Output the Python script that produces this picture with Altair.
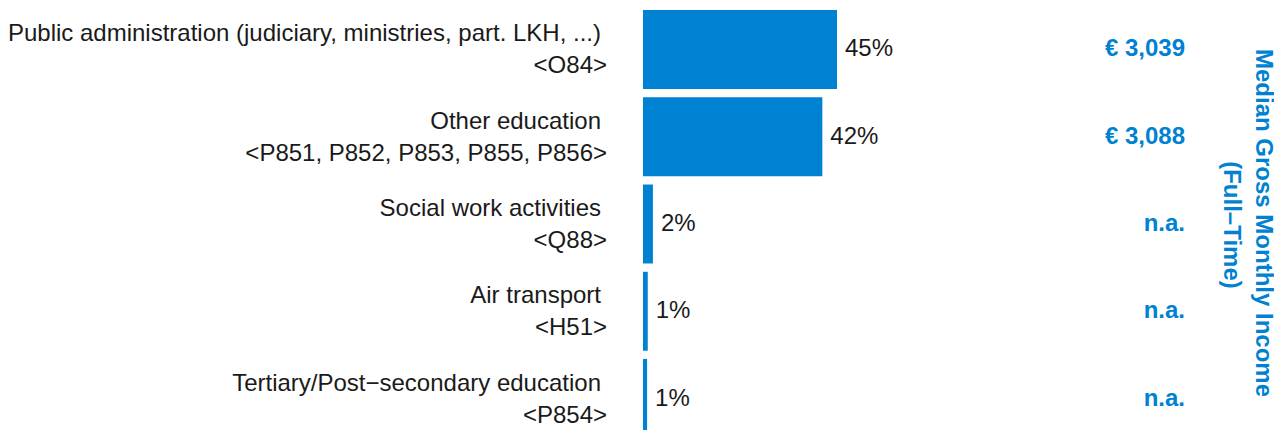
import altair as alt
import pandas as pd

categories = [
    "Public administration (judiciary, ministries, part. LKH, ...)",
    "Other education",
    "Social work activities",
    "Air transport",
    "Tertiary/Post\u2212secondary education",
]
codes = ["<O84>", "<P851, P852, P853, P855, P856>", "<Q88>", "<H51>", "<P854>"]
shares = [45.0, 41.6, 2.3, 1.1, 0.95]
incomes = ["\u20ac 3,039", "\u20ac 3,088", "n.a.", "n.a.", "n.a."]
title_lines = ["Median Gross Monthly Income", "(Full\u2013Time)"]

BLUE = "#0081D1"
FONT = "Liberation Sans"

df = pd.DataFrame({
    "cat": categories,
    "code": codes,
    "share": shares,
    "income": incomes,
})

y = alt.Y("cat:N", sort=categories, axis=None,
          scale=alt.Scale(paddingInner=0.095, paddingOuter=0.023))
xs = alt.Scale(domain=[0, 45], range=[635, 829], nice=False, zero=True)

base = alt.Chart(df)

bars = base.mark_bar(color=BLUE).encode(
    x=alt.X("share:Q", scale=xs, axis=None),
    y=y,
)

pct = base.transform_calculate(
    pl="format(datum.share, '.0f') + '%'"
).mark_text(align="left", baseline="middle", dx=8, font=FONT, fontSize=24,
            color="#1a1a1a").encode(
    x=alt.X("share:Q", scale=xs, axis=None),
    y=y,
    text="pl:N",
)

left1 = base.mark_text(align="right", baseline="middle", font=FONT, fontSize=24,
                       dy=-15, color="#1a1a1a").encode(
    x=alt.value(593),
    y=y,
    text="cat:N",
)

left2 = base.mark_text(align="right", baseline="middle", font=FONT, fontSize=24,
                       dy=17, color="#1a1a1a").encode(
    x=alt.value(599),
    y=y,
    text="code:N",
)

inc = base.mark_text(align="right", baseline="middle", font=FONT, fontSize=24,
                     fontWeight="bold", color=BLUE).encode(
    x=alt.value(1177),
    y=y,
    text="income:N",
)

def title_line(txt, xpos, ypos):
    return alt.Chart(pd.DataFrame({"t": [txt]})).mark_text(
        align="center", baseline="middle", font=FONT, fontSize=24,
        fontWeight="bold", color=BLUE, angle=90,
    ).encode(x=alt.value(xpos), y=alt.value(ypos), text="t:N")

t1 = title_line(title_lines[0], 1255, 215)
t2 = title_line(title_lines[1], 1223, 217)

chart = alt.layer(bars, pct, left1, left2, inc, t1, t2).properties(
    width=1266, height=432, padding=0,
    autosize=alt.AutoSizeParams(type="none"),
).configure_view(stroke=None)

chart.save("out.html", embed_options={"renderer": "svg", "actions": False})
